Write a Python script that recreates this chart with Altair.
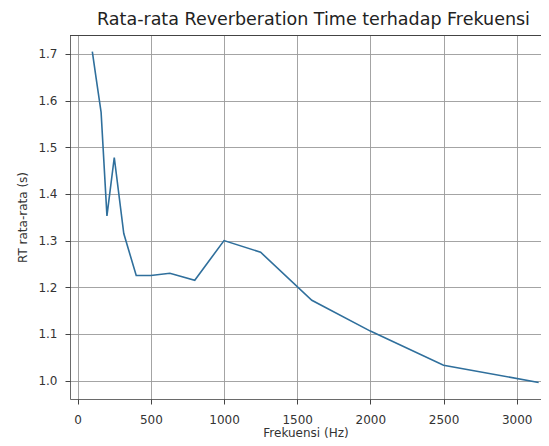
import altair as alt
import pandas as pd

freqs = [100, 125, 160, 200, 250, 315, 400, 500, 630, 800, 1000, 1250, 1600, 2000, 2500, 3150]
rt = [1.705, 1.65, 1.575, 1.353, 1.478, 1.315, 1.225, 1.225, 1.23, 1.215, 1.30, 1.275, 1.172, 1.106, 1.033, 0.996]

x_ticks = [0, 500, 1000, 1500, 2000, 2500, 3000]
y_ticks = [1.0, 1.1, 1.2, 1.3, 1.4, 1.5, 1.6, 1.7]

df = pd.DataFrame({"f": freqs, "rt": rt})

FONT = "DejaVu Sans"
W, H = 471, 364

line = alt.Chart(df).mark_line(color="#2f6f9c", strokeWidth=1.6, clip=True).encode(
    x=alt.X("f:Q", title="Frekuensi (Hz)",
            scale=alt.Scale(domain=[-52.5, 3166], nice=False, zero=False),
            axis=alt.Axis(values=x_ticks, format="d", labelPadding=10, titlePadding=2)),
    y=alt.Y("rt:Q", title="RT rata-rata (s)",
            scale=alt.Scale(domain=[0.9605, 1.7405], nice=False, zero=False),
            axis=alt.Axis(values=y_ticks, format=".1f", labelPadding=8, titlePadding=8)),
)

top_frame = alt.Chart(df).mark_rule(color="#444", strokeWidth=0.8).encode(
    x=alt.value(0), x2=alt.value(W), y=alt.value(0.5)
)

chart = alt.layer(line, top_frame).properties(
    width=W, height=H,
    title=alt.TitleParams("Rata-rata Reverberation Time terhadap Frekuensi",
                          font=FONT, fontSize=17.5, fontWeight="normal", color="#222",
                          offset=7, dx=8),
    autosize=alt.AutoSizeParams(type="none"),
    padding={"left": 62, "top": 27, "right": 0, "bottom": 39},
).configure_axis(
    labelFont=FONT, titleFont=FONT, labelFontSize=12, titleFontSize=12,
    titleFontWeight="normal", labelColor="#333", titleColor="#333",
    grid=True, gridColor="#9a9a9a", gridWidth=0.9,
    domainColor="#444", domainWidth=0.8, tickColor="#444", tickSize=5,
).configure_view(stroke=None)

chart.save("out.html", embed_options={"renderer": "svg", "actions": False})
